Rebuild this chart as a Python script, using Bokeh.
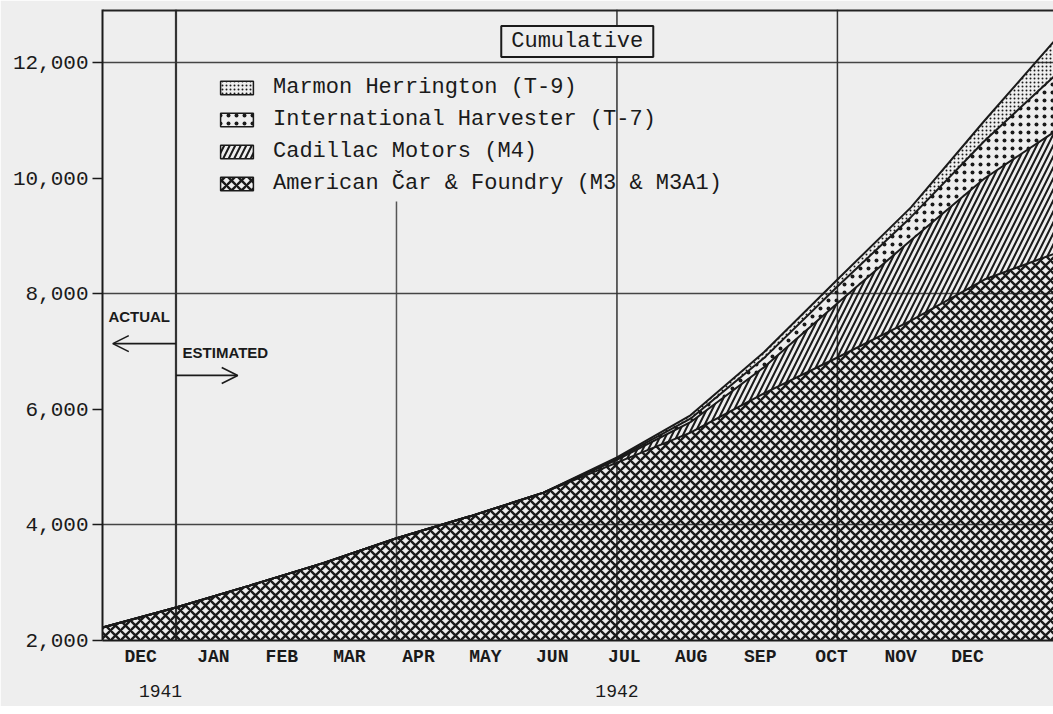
from bokeh.plotting import figure
from bokeh.models import (ColumnDataSource, FixedTicker, LinearAxis, Span, Label,
                          Arrow, OpenHead, Legend, LegendItem, Range1d,
                          NumeralTickFormatter)
from bokeh.embed import file_html
from bokeh.resources import INLINE

# ---- data (cumulative tanks at month ends; 0 = 1 Dec 1941) ----
months = [0, 1, 2, 3, 4, 5, 6, 7, 8, 9, 10, 11, 12, 13]
acf = [2225, 2570, 2950, 3340, 3770, 4150, 4560, 5080, 5600, 6280, 6900, 7540, 8250, 8720]
cadillac = [0, 0, 0, 0, 0, 0, 0, 50, 180, 450, 940, 1390, 1750, 2130]
harvester = [0, 0, 0, 0, 0, 0, 0, 20, 60, 160, 290, 400, 650, 980]
marmon = [0, 0, 0, 0, 0, 0, 0, 20, 60, 100, 120, 170, 350, 620]

series_names = ["Marmon Herrington (T-9)", "International Harvester (T-7)",
                "Cadillac Motors (M4)", "American Čar & Foundry (M3 & M3A1)"]

month_labels = ["DEC", "JAN", "FEB", "MAR", "APR", "MAY", "JUN", "JUL", "AUG",
                "SEP", "OCT", "NOV", "DEC"]
month_label_pos = [0.52, 1.51, 2.44, 3.36, 4.30, 5.21, 6.12, 7.10, 8.01, 8.95,
                   9.92, 10.86, 11.77]
year_labels = ["1941", "1942"]
year_label_pos = [0.79, 7.0]
y_ticks = [2000, 4000, 6000, 8000, 10000, 12000]

c1 = acf
c2 = [a + b for a, b in zip(c1, cadillac)]
c3 = [a + b for a, b in zip(c2, harvester)]
c4 = [a + b for a, b in zip(c3, marmon)]
src = ColumnDataSource(dict(x=months, c1=c1, c2=c2, c3=c3, c4=c4))

BG = "#eeeeee"
INK = "#1a1a1a"
MONO = "Liberation Mono"

p = figure(width=1053, height=706, output_backend="svg", toolbar_location=None,
           x_range=Range1d(0, 12.94), y_range=Range1d(2000, 12926),
           min_border_left=102, min_border_right=0, min_border_top=9,
           min_border_bottom=66)
p.background_fill_color = BG
p.border_fill_color = BG
p.outline_line_color = None

# grid
p.xgrid.visible = False
p.ygrid.ticker = FixedTicker(ticks=[4000, 8000, 12000])
p.ygrid.grid_line_color = "#444444"
p.ygrid.grid_line_width = 1.6

for m, w in [(1, 2.2), (7, 1.5), (10, 1.5)]:
    p.add_layout(Span(location=m, dimension="height", line_color="#333333",
                      line_width=w, level="underlay"))
p.segment(x0=[4], y0=[2000], x1=[4], y1=[9600], line_color="#555555",
          line_width=1.5, level="underlay")
p.add_layout(Span(location=12912, dimension="width", line_color="#222222",
                  line_width=2.5))

# hatched stacked areas
styles = [
    dict(hatch_pattern="dot", hatch_scale=4, hatch_weight=1.8),                   # Marmon
    dict(hatch_pattern="dot", hatch_scale=8, hatch_weight=4.0),                   # IH
    dict(hatch_pattern="right_diagonal_line", hatch_scale=11, hatch_weight=2.0),  # Cadillac
    dict(hatch_pattern="diagonal_cross", hatch_scale=10, hatch_weight=2.4),       # ACF
]
p.varea(x="x", y1=2000, y2="c1", source=src, fill_alpha=0, hatch_color=INK, **styles[3])
p.varea(x="x", y1="c1", y2="c2", source=src, fill_alpha=0, hatch_color=INK, **styles[2])
p.varea(x="x", y1="c2", y2="c3", source=src, fill_alpha=0, hatch_color=INK, **styles[1])
p.varea(x="x", y1="c3", y2="c4", source=src, fill_alpha=0, hatch_color=INK, **styles[0])
for col in ["c1", "c2", "c3", "c4"]:
    p.line(x="x", y=col, source=src, line_color=INK, line_width=2)

# legend with outlined hatched icons (one NaN row each so the icon is drawn)
nan = float("nan")
items = []
for name, st in zip(series_names, styles):
    r = p.quad(left=[nan], right=[nan], top=[nan], bottom=[nan], fill_color=BG,
               line_color=INK, line_width=1.5, hatch_color=INK, **st)
    items.append(LegendItem(label=name, renderers=[r]))
legend = Legend(items=items, location=(114, 444), padding=0, margin=0,
                background_fill_alpha=0, border_line_color=None,
                label_text_font=MONO, label_text_font_size="22px",
                label_text_color=INK, glyph_width=41, glyph_height=17,
                label_height=26, spacing=6, label_standoff=16)
p.add_layout(legend)

# "Cumulative" box
p.add_layout(Label(x=6.46, y=12372, text="Cumulative", text_align="center",
                   text_baseline="middle", text_font=MONO, text_font_size="22px",
                   text_color=INK, border_line_color=INK, border_line_width=2,
                   background_fill_color=BG, padding=(10, 3)))

# actual / estimated
p.add_layout(Label(x=0.08, y=7610, text="ACTUAL", text_baseline="middle",
                   text_font="Liberation Sans", text_font_style="bold",
                   text_font_size="15px", text_color=INK))
p.add_layout(Label(x=1.09, y=6990, text="ESTIMATED", text_baseline="middle",
                   text_font="Liberation Sans", text_font_style="bold",
                   text_font_size="15px", text_color=INK))
p.add_layout(Arrow(end=OpenHead(size=16, line_width=1.6, line_color=INK),
                   x_start=1, y_start=7140, x_end=0.14, y_end=7140,
                   line_width=1.6, line_color=INK))
p.add_layout(Arrow(end=OpenHead(size=16, line_width=1.6, line_color=INK),
                   x_start=1, y_start=6590, x_end=1.84, y_end=6590,
                   line_width=1.6, line_color=INK))

# axes
xa = p.xaxis[0]
xa.ticker = FixedTicker(ticks=month_label_pos)
xa.major_label_overrides = {pv: lab for pv, lab in zip(month_label_pos, month_labels)}
xa.major_tick_line_color = None
xa.minor_tick_line_color = None
xa.axis_line_color = INK
xa.axis_line_width = 2
xa.major_label_text_font = MONO
xa.major_label_text_font_style = "bold"
xa.major_label_text_font_size = "18px"
xa.major_label_text_color = INK
xa.major_label_standoff = 0

ya = LinearAxis(ticker=FixedTicker(ticks=year_label_pos),
                major_label_overrides={pv: lab for pv, lab in zip(year_label_pos, year_labels)},
                axis_line_color=None, major_tick_line_color=None,
                minor_tick_line_color=None, major_label_text_font=MONO,
                major_label_text_font_size="18px", major_label_text_color=INK,
                major_label_standoff=9)
p.add_layout(ya, "below")

yax = p.yaxis[0]
yax.ticker = FixedTicker(ticks=y_ticks)
yax.formatter = NumeralTickFormatter(format="0,0")
yax.axis_line_color = INK
yax.axis_line_width = 2
yax.major_tick_line_color = INK
yax.major_tick_line_width = 1.5
yax.major_tick_out = 10
yax.major_tick_in = 0
yax.minor_tick_line_color = None
yax.major_label_text_font = MONO
yax.major_label_text_font_size = "21px"
yax.major_label_text_color = INK
yax.major_label_standoff = 4

open("out.html", "w").write(file_html(p, INLINE))
